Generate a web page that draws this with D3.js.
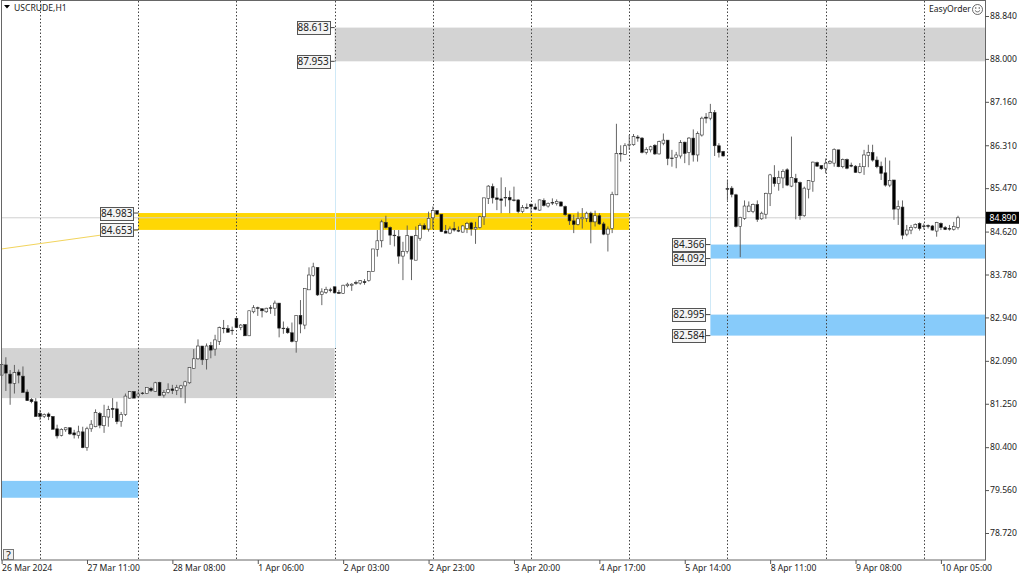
<!DOCTYPE html>
<html>
<head>
<meta charset="utf-8">
<script src="https://cdn.jsdelivr.net/npm/d3@7"></script>
<style>
  html, body { margin: 0; padding: 0; background: #fff; }
  svg { display: block; }
  text { font-family: "Noto Sans", sans-serif; font-size: 8.6px; fill: #222; }
  .axis path { display: none; }
  .axis line { stroke: #555; }
  .tag-text { font-size: 10px; }
  .help-text { font-size: 11px; }
</style>
</head>
<body>
<svg id="chart" width="1024" height="576"></svg>
<script>
const symbolTitle = "USCRUDE,H1";
const pluginName = "EasyOrder";
const lastPrice = 84.89;

const priceTicks = [88.84, 88.0, 87.16, 86.31, 85.47, 84.62, 83.78, 82.94, 82.09, 81.25, 80.4, 79.56, 78.72];

// bar index of each time label (one label every 20 bars)
const timeTickBars = [0, 20, 40, 60, 80, 100, 120, 140, 160, 180, 200, 220];
const timeTickLabels = ["26 Mar 2024", "27 Mar 11:00", "28 Mar 08:00", "1 Apr 06:00", "2 Apr 03:00", "2 Apr 23:00",
  "3 Apr 20:00", "4 Apr 17:00", "5 Apr 14:00", "8 Apr 11:00", "9 Apr 08:00", "10 Apr 05:00"];

// day separators, bar index of midnight
const dayBars = [9, 32, 55, 78, 101, 124, 147, 170, 193, 216];

const opens = [
  81.81, 82.01, 81.83, 81.65, 81.87, 81.79, 81.48, 81.33, 81.29, 81.06,
  81.00, 81.05, 81.00, 80.76, 80.63, 80.74, 80.78, 80.68, 80.63, 80.70,
  80.39, 80.76, 80.80, 81.06, 80.82, 80.99, 81.16, 81.15, 80.90, 81.04,
  81.36, 81.49, 81.40, 81.46, 81.45, 81.55, 81.49, 81.67, 81.42, 81.47,
  81.54, 81.51, 81.55, 81.60, 81.66, 81.94, 82.13, 82.38, 82.12, 82.39,
  82.32, 82.47, 82.73, 82.72, 82.69, 82.92, 82.74, 82.80, 82.58, 83.05,
  83.13, 83.11, 83.05, 83.13, 83.12, 83.22, 82.73, 82.72, 82.64, 82.47,
  82.98, 82.79, 83.48, 83.76, 83.92, 83.39, 83.43, 83.48, 83.54, 83.43,
  83.41, 83.56, 83.57, 83.62, 83.61, 83.64, 83.66, 83.84, 84.27, 84.44,
  84.80, 84.70, 84.55, 84.52, 84.14, 84.23, 84.53, 84.06, 84.49, 84.74,
  84.67, 84.89, 85.03, 84.96, 84.63, 84.59, 84.68, 84.64, 84.61, 84.68,
  84.79, 84.67, 84.70, 84.91, 85.27, 85.50, 85.28, 85.26, 85.29, 85.29,
  85.24, 85.24, 85.01, 85.09, 85.15, 85.10, 85.04, 85.23, 85.12, 85.19,
  85.17, 85.20, 85.11, 84.95, 84.83, 84.76, 84.87, 84.88, 84.98, 84.81,
  84.93, 84.77, 84.57, 84.68, 85.34, 86.15, 86.13, 86.31, 86.32, 86.47,
  86.45, 86.17, 86.22, 86.31, 86.14, 86.35, 86.41, 86.06, 86.07, 86.10,
  86.37, 86.17, 86.45, 86.12, 86.51, 86.86, 86.84, 86.95, 86.30, 86.19,
  85.46, 85.47, 85.34, 84.72, 84.88, 85.01, 85.01, 85.15, 84.87, 84.96,
  85.36, 85.68, 85.56, 85.67, 85.83, 85.51, 85.66, 85.58, 84.93, 85.45,
  85.60, 85.97, 85.91, 85.86, 85.96, 85.96, 86.22, 85.89, 86.03, 85.92,
  85.90, 85.78, 85.89, 86.11, 86.17, 86.02, 85.90, 85.77, 85.53, 85.63,
  85.06, 85.10, 84.57, 84.65, 84.70, 84.78, 84.73, 84.74, 84.73, 84.63,
  84.78, 84.70, 84.68, 84.66, 84.70
];

const highs = [
  82.07, 82.16, 81.91, 82.01, 81.92, 81.98, 81.53, 81.36, 81.36, 81.13,
  81.06, 81.08, 81.01, 80.84, 80.77, 80.79, 80.79, 80.74, 80.82, 80.80,
  80.80, 80.93, 81.14, 81.09, 81.23, 81.21, 81.36, 81.29, 81.09, 81.45,
  81.50, 81.50, 81.49, 81.48, 81.57, 81.58, 81.68, 81.68, 81.52, 81.65,
  81.62, 81.62, 81.62, 81.70, 81.96, 82.32, 82.51, 82.38, 82.43, 82.46,
  82.60, 82.76, 82.89, 82.79, 82.76, 82.94, 82.81, 82.81, 83.07, 83.18,
  83.15, 83.11, 83.13, 83.18, 83.27, 83.22, 82.86, 82.76, 82.84, 82.98,
  83.28, 83.51, 83.92, 84.01, 83.92, 83.51, 83.54, 83.52, 83.54, 83.48,
  83.58, 83.62, 83.61, 83.66, 83.67, 83.69, 83.85, 84.28, 84.65, 84.85,
  84.93, 84.72, 84.65, 84.65, 84.42, 84.74, 84.53, 84.72, 84.78, 84.78,
  85.01, 85.11, 85.04, 84.96, 84.75, 84.72, 84.81, 84.72, 84.75, 84.81,
  84.81, 84.81, 84.93, 85.28, 85.53, 85.56, 85.47, 85.68, 85.49, 85.42,
  85.50, 85.25, 85.14, 85.17, 85.17, 85.17, 85.25, 85.27, 85.19, 85.27,
  85.25, 85.21, 85.13, 84.96, 84.95, 85.01, 85.08, 85.01, 85.01, 85.03,
  84.98, 84.81, 84.72, 85.40, 86.73, 86.31, 86.35, 86.51, 86.53, 86.51,
  86.47, 86.27, 86.30, 86.33, 86.40, 86.54, 86.41, 86.22, 86.18, 86.41,
  86.38, 86.47, 86.62, 86.58, 86.87, 86.94, 87.12, 87.00, 86.35, 86.20,
  85.63, 85.51, 85.36, 84.91, 85.23, 85.21, 85.17, 85.23, 85.01, 85.38,
  85.75, 85.92, 85.81, 85.84, 85.86, 86.48, 85.75, 85.60, 85.50, 85.63,
  85.99, 85.99, 85.92, 86.05, 86.02, 86.25, 86.22, 86.05, 86.05, 85.97,
  85.92, 85.96, 86.22, 86.32, 86.32, 86.09, 85.99, 86.07, 86.01, 85.63,
  85.23, 85.23, 84.75, 84.75, 84.78, 84.80, 84.78, 84.76, 84.75, 84.81,
  84.80, 84.73, 84.75, 84.81, 84.93
];

const lows = [
  81.72, 81.50, 81.23, 81.45, 81.65, 81.47, 81.31, 81.26, 81.00, 80.93,
  80.97, 80.93, 80.75, 80.57, 80.61, 80.70, 80.64, 80.57, 80.57, 80.38,
  80.33, 80.70, 80.79, 80.77, 80.68, 80.80, 80.97, 80.85, 80.80, 81.01,
  81.35, 81.36, 81.36, 81.43, 81.44, 81.48, 81.48, 81.40, 81.37, 81.45,
  81.44, 81.42, 81.37, 81.26, 81.64, 81.93, 82.11, 82.01, 81.92, 82.14,
  82.19, 82.40, 82.63, 82.64, 82.60, 82.73, 82.69, 82.58, 82.58, 83.02,
  82.97, 82.94, 83.03, 83.01, 82.97, 82.55, 82.62, 82.62, 82.45, 82.25,
  82.63, 82.71, 83.48, 83.74, 83.36, 83.18, 83.40, 83.43, 83.41, 83.40,
  83.40, 83.53, 83.46, 83.58, 83.58, 83.58, 83.64, 83.84, 84.13, 84.31,
  84.68, 84.36, 84.33, 83.99, 83.67, 84.19, 83.67, 84.06, 84.44, 84.65,
  84.62, 84.67, 84.95, 84.61, 84.59, 84.57, 84.62, 84.61, 84.60, 84.59,
  84.54, 84.38, 84.68, 84.75, 85.16, 85.17, 85.04, 84.98, 85.11, 84.98,
  85.21, 84.98, 84.98, 85.06, 84.98, 85.04, 85.03, 85.11, 85.09, 85.14,
  85.13, 85.11, 84.93, 84.75, 84.59, 84.74, 84.68, 84.81, 84.39, 84.72,
  84.75, 84.55, 84.23, 84.59, 85.34, 85.99, 86.12, 86.22, 86.30, 86.38,
  86.15, 86.13, 86.17, 86.12, 86.13, 86.31, 85.92, 85.89, 85.86, 86.05,
  85.96, 85.92, 85.99, 85.99, 86.48, 86.74, 86.80, 86.10, 86.07, 86.09,
  85.23, 85.29, 84.70, 84.12, 84.85, 85.00, 84.98, 84.81, 84.85, 84.87,
  85.12, 85.50, 85.42, 85.47, 85.51, 85.49, 84.86, 84.85, 84.91, 85.27,
  85.40, 85.89, 85.83, 85.76, 85.94, 85.89, 85.88, 85.86, 85.84, 85.88,
  85.77, 85.76, 85.73, 85.88, 85.99, 85.86, 85.63, 85.50, 85.49, 84.85,
  84.75, 84.47, 84.53, 84.57, 84.68, 84.64, 84.66, 84.68, 84.64, 84.52,
  84.65, 84.65, 84.64, 84.64, 84.66
];

const closes = [
  82.02, 81.85, 81.65, 81.86, 81.81, 81.47, 81.31, 81.29, 81.00, 81.00,
  81.04, 81.00, 80.75, 80.62, 80.75, 80.78, 80.66, 80.64, 80.70, 80.39,
  80.76, 80.85, 81.08, 80.83, 81.00, 81.14, 81.14, 80.90, 81.04, 81.40,
  81.49, 81.36, 81.44, 81.45, 81.57, 81.51, 81.66, 81.41, 81.47, 81.53,
  81.51, 81.57, 81.60, 81.68, 81.96, 82.13, 82.38, 82.11, 82.38, 82.30,
  82.50, 82.74, 82.72, 82.65, 82.68, 82.74, 82.79, 82.58, 83.07, 83.13,
  83.12, 83.07, 83.12, 83.12, 83.22, 82.73, 82.72, 82.64, 82.47, 82.98,
  82.81, 83.51, 83.77, 83.93, 83.38, 83.44, 83.49, 83.47, 83.42, 83.41,
  83.57, 83.59, 83.59, 83.61, 83.66, 83.62, 83.84, 84.28, 84.44, 84.81,
  84.70, 84.55, 84.54, 84.14, 84.23, 84.54, 84.08, 84.54, 84.74, 84.67,
  84.88, 85.03, 84.96, 84.62, 84.59, 84.67, 84.65, 84.63, 84.73, 84.78,
  84.67, 84.70, 84.91, 85.28, 85.51, 85.28, 85.25, 85.23, 85.28, 85.24,
  85.23, 85.01, 85.09, 85.08, 85.11, 85.06, 85.24, 85.13, 85.17, 85.18,
  85.21, 85.12, 84.95, 84.83, 84.76, 84.87, 84.90, 84.98, 84.81, 84.93,
  84.77, 84.57, 84.67, 85.35, 86.15, 86.14, 86.30, 86.33, 86.48, 86.45,
  86.17, 86.23, 86.28, 86.14, 86.38, 86.41, 86.05, 86.05, 86.12, 86.36,
  86.15, 86.45, 86.12, 86.54, 86.84, 86.84, 86.95, 86.30, 86.17, 86.10,
  85.45, 85.35, 84.72, 84.90, 85.12, 85.12, 85.15, 84.86, 84.98, 85.37,
  85.73, 85.56, 85.68, 85.80, 85.53, 85.68, 85.58, 84.93, 85.47, 85.62,
  85.98, 85.90, 85.85, 85.96, 85.99, 86.23, 85.89, 86.03, 85.86, 85.90,
  85.78, 85.89, 86.12, 86.17, 86.02, 85.89, 85.76, 85.53, 85.62, 85.06,
  85.11, 84.55, 84.65, 84.70, 84.76, 84.68, 84.72, 84.72, 84.65, 84.80,
  84.70, 84.66, 84.67, 84.72, 84.89
];

// supply / demand zones: price band and first bar; to the right edge when no end bar
const zoneTops = [88.613, 82.34, 84.983, 84.366, 82.995, 79.74];
const zoneBottoms = [87.953, 81.36, 84.653, 84.092, 82.584, 79.41];
const zoneStartBars = [78, 0, 32, 166, 166, 0];
const zoneEndBars = [null, 78, 147, null, null, 32];
const zoneKinds = ["gray", "gray", "gold", "blue", "blue", "blue"];
const zoneLabelled = [true, false, true, true, true, false];

// thin yellow trend line, and the two light guide lines
const trendBars = [0, 32];
const trendPrices = [84.28, 84.653];
const guideBars = [78, 166];
const guideTops = [87.953, 86.95];
const guideBottoms = [82.34, 82.995];

const zoneColors = { gray: "#d3d3d3", gold: "#ffd704", blue: "#87cbfa" };

const plot = { left: 1, right: 985, top: 1, bottom: 560 };

const xScale = d3.scaleLinear().domain([0, 224]).range([1.6, 958]);
const yScale = d3.scaleLinear().domain([78.72, 88.84]).range([533, 16]);
const svg = d3.select("#chart");

const zoneRight = (bar) => (bar === null ? plot.right : xScale(bar));

// zones
const zoneIds = d3.range(zoneTops.length);
svg.append("g")
  .selectAll("rect")
  .data(zoneIds)
  .enter()
  .append("rect")
  .attr("x", (i) => xScale(zoneStartBars[i]))
  .attr("y", (i) => yScale(zoneTops[i]))
  .attr("width", (i) => zoneRight(zoneEndBars[i]) - xScale(zoneStartBars[i]))
  .attr("height", (i) => yScale(zoneBottoms[i]) - yScale(zoneTops[i]))
  .attr("fill", (i) => zoneColors[zoneKinds[i]]);

// day separators
svg.append("g")
  .selectAll("line")
  .data(dayBars)
  .enter()
  .append("line")
  .attr("x1", (d) => Math.round(xScale(d)) + 0.5)
  .attr("x2", (d) => Math.round(xScale(d)) + 0.5)
  .attr("y1", plot.top)
  .attr("y2", plot.bottom)
  .attr("stroke", "#444")
  .attr("stroke-dasharray", "1.5 2");

// light guides run over the separators where they share a bar
svg.append("g")
  .selectAll("line")
  .data(d3.range(guideBars.length))
  .enter()
  .append("line")
  .attr("x1", (i) => Math.round(xScale(guideBars[i])) + 0.5)
  .attr("x2", (i) => Math.round(xScale(guideBars[i])) + 0.5)
  .attr("y1", (i) => yScale(guideTops[i]))
  .attr("y2", (i) => yScale(guideBottoms[i]))
  .attr("stroke", "#cfe9f7");

// bid line
svg.append("line")
  .attr("x1", plot.left)
  .attr("x2", plot.right)
  .attr("y1", yScale(lastPrice))
  .attr("y2", yScale(lastPrice))
  .attr("stroke", "#d0d0d0");

// trend line
svg.append("path")
  .attr("d", d3.line()
    .x((d, i) => xScale(trendBars[i]))
    .y((d) => yScale(d))(trendPrices))
  .attr("fill", "none")
  .attr("stroke", "#f2d45c");

// candles
const barIds = d3.range(opens.length);
const candles = svg.append("g");
candles.selectAll("line")
  .data(barIds)
  .enter()
  .append("line")
  .attr("x1", (i) => xScale(i))
  .attr("x2", (i) => xScale(i))
  .attr("y1", (i) => yScale(highs[i]))
  .attr("y2", (i) => yScale(lows[i]))
  .attr("stroke", "#555")
  .attr("stroke-width", 0.9);
candles.selectAll("rect")
  .data(barIds)
  .enter()
  .append("rect")
  .attr("x", (i) => xScale(i) - 1.4)
  .attr("y", (i) => yScale(Math.max(opens[i], closes[i])))
  .attr("width", 2.8)
  .attr("height", (i) => Math.max(0.6, Math.abs(yScale(opens[i]) - yScale(closes[i]))))
  .attr("fill", (i) => (closes[i] >= opens[i] ? "#fff" : "#000"))
  .attr("stroke", "#333")
  .attr("stroke-width", 0.6);

// frame
svg.append("rect")
  .attr("x", plot.left + 0.5)
  .attr("y", plot.top - 0.5)
  .attr("width", plot.right - plot.left)
  .attr("height", plot.bottom - plot.top + 0.5)
  .attr("fill", "none")
  .attr("stroke", "#666");

// zone price tags
const tagWidth = 33;
const tagHeight = 13;
const drawTag = (bar, price) => {
  const right = xScale(bar);
  const y = yScale(price);
  const tag = svg.append("g");
  tag.append("line")
    .attr("x1", right - 5)
    .attr("x2", right)
    .attr("y1", y)
    .attr("y2", y)
    .attr("stroke", "#444");
  tag.append("rect")
    .attr("x", Math.round(right - 5 - tagWidth) + 0.5)
    .attr("y", Math.round(y - tagHeight / 2) + 0.5)
    .attr("width", tagWidth)
    .attr("height", tagHeight)
    .attr("fill", "#f4f4f4")
    .attr("stroke", "#555");
  tag.append("text")
    .attr("class", "tag-text")
    .attr("x", right - 5 - tagWidth / 2)
    .attr("y", y + 3.8)
    .attr("text-anchor", "middle")
    .text(price.toFixed(3));
};
zoneIds.filter((i) => zoneLabelled[i]).forEach((i) => {
  drawTag(zoneStartBars[i], zoneTops[i]);
  drawTag(zoneStartBars[i], zoneBottoms[i]);
});

// axes
const yAxis = svg.append("g")
  .attr("class", "axis")
  .attr("transform", `translate(${plot.right},0)`)
  .call(d3.axisRight(yScale).tickValues(priceTicks).tickSize(4).tickPadding(1).tickFormat(d3.format(".3f")));
yAxis.selectAll("text").style("font-family", '"Noto Sans", sans-serif').style("font-size", "8.6px");

const xAxis = svg.append("g")
  .attr("class", "axis")
  .attr("transform", `translate(0,${plot.bottom})`)
  .call(d3.axisBottom(xScale).tickValues(timeTickBars).tickSize(4).tickPadding(1)
    .tickFormat((d, i) => timeTickLabels[i]));
xAxis.selectAll("text")
  .attr("text-anchor", "start")
  .style("font-family", '"Noto Sans", sans-serif')
  .style("font-size", "8.6px");

// last price box
svg.append("rect")
  .attr("x", 986)
  .attr("y", yScale(lastPrice) - 6)
  .attr("width", 33)
  .attr("height", 12)
  .attr("fill", "#000");
svg.append("text")
  .attr("x", 989.5)
  .attr("y", yScale(lastPrice) + 3.2)
  .style("fill", "#fff")
  .text(lastPrice.toFixed(3));

// title
svg.append("path").attr("d", "M4,5 L10,5 L7,8.5 Z").attr("fill", "#000");
svg.append("text").attr("x", 14).attr("y", 10.5).text(symbolTitle);

// plugin badge
svg.append("text").attr("x", 929).attr("y", 12).text(pluginName);
const smiley = svg.append("g").attr("transform", "translate(977.5,9.5)").attr("fill", "none").attr("stroke", "#444").attr("stroke-width", 0.8);
smiley.append("circle").attr("r", 5);
smiley.append("path").attr("d", "M-2.6,0.8 Q0,4 2.6,0.8");
smiley.append("circle").attr("cx", -1.7).attr("cy", -1.5).attr("r", 0.4);
smiley.append("circle").attr("cx", 1.7).attr("cy", -1.5).attr("r", 0.4);

// help button
svg.append("rect")
  .attr("x", 3.5)
  .attr("y", 549.5)
  .attr("width", 10)
  .attr("height", 10)
  .attr("fill", "#f0f0f0")
  .attr("stroke", "#777");
svg.append("text").attr("class", "help-text").attr("x", 8.5).attr("y", 558.5).attr("text-anchor", "middle").text("?");
</script>
</body>
</html>
